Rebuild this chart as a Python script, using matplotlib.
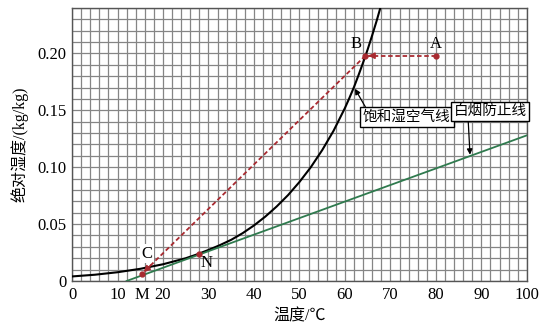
import matplotlib
matplotlib.use("Agg")
import matplotlib.pyplot as plt
import numpy as np

plt.rcParams['font.family'] = ['Liberation Serif', 'Noto Sans CJK SC', 'DejaVu Sans']

# saturation curve
sat_t = [0, 5, 10, 15, 20, 25, 27.5, 30, 32.5, 35, 37.5, 40, 42.5, 45, 47.5, 50, 52.5,
         55, 57.5, 60, 61, 62, 63, 64, 65, 66, 67, 68]
sat_w = [0.004, 0.0055, 0.0077, 0.0107, 0.0147, 0.020, 0.0234, 0.0273, 0.0315, 0.0362,
         0.0420, 0.0488, 0.0566, 0.0655, 0.0755, 0.0870, 0.1000, 0.1150, 0.1320, 0.1520,
         0.1610, 0.1705, 0.1810, 0.1920, 0.2035, 0.2160, 0.2290, 0.2430]

# white smoke prevention line
green_t = [12, 100]
green_w = [0.0, 0.128]

# process points
pt_A = (80, 0.198)
pt_B = (64.5, 0.198)
pt_C = (15.3, 0.006)
pt_N = (28, 0.0235)

xticks = [0, 10, 15.3, 20, 30, 40, 50, 60, 70, 80, 90, 100]
xtick_labels = ['0', '10', 'M', '20', '30', '40', '50', '60', '70', '80', '90', '100']
yticks = [0, 0.05, 0.10, 0.15, 0.20]
ytick_labels = ['0', '0.05', '0.10', '0.15', '0.20']

red = '#a82a30'
green = '#2f7a4e'

fig = plt.figure(figsize=(5.54, 3.30), dpi=100)
ax = fig.add_axes([0.130, 0.1485, 0.821, 0.8275])

ax.set_xlim(0, 100)
ax.set_ylim(0, 0.24)

# grid
for gx in np.arange(0, 101, 2):
    ax.axvline(gx, color='#858585', lw=0.9, zorder=0)
for gy in np.arange(0, 0.2401, 0.01):
    ax.axhline(gy, color='#858585', lw=0.9, zorder=0)

ax.plot(sat_t, sat_w, color='black', lw=1.5, zorder=3)
ax.plot(green_t, green_w, color=green, lw=1.3, zorder=3)

# dashed process lines
ax.plot([pt_A[0], pt_B[0]], [pt_A[1], pt_B[1]], color=red, lw=1.3, ls=(0, (2.5, 1.5)), zorder=4)
ax.plot([pt_B[0], pt_C[0]], [pt_B[1], pt_C[1]], color=red, lw=1.3, ls=(0, (2.5, 1.5)), zorder=4)
for p in (pt_A, pt_B, pt_C, pt_N):
    ax.plot(p[0], p[1], 'o', color=red, ms=3.5, zorder=5)

# arrow heads
ax.annotate('', xy=pt_B, xytext=(pt_B[0] + 2, pt_B[1]),
            arrowprops=dict(arrowstyle='-|>', color=red, lw=1.2, mutation_scale=9), zorder=5)
dx = pt_B[0] - pt_C[0]
dy = pt_B[1] - pt_C[1]
ax.annotate('', xy=pt_C, xytext=(pt_C[0] + dx * 0.05, pt_C[1] + dy * 0.05),
            arrowprops=dict(arrowstyle='-|>', color=red, lw=1.2, mutation_scale=9), zorder=5)

# point labels
ax.text(80, 0.201, 'A', fontsize=12, ha='center', va='bottom')
ax.text(62.5, 0.201, 'B', fontsize=12, ha='center', va='bottom')
ax.text(16.5, 0.024, 'C', fontsize=12, ha='center', va='center',
        bbox=dict(boxstyle='square,pad=0.1', fc='white', ec='none'))
ax.text(29.6, 0.016, 'N', fontsize=12, ha='center', va='center')

# callouts
ax.annotate('饱和湿空气线', xy=(62.2, 0.169), xytext=(73.6, 0.144),
            fontsize=10.5, ha='center', va='center',
            bbox=dict(boxstyle='square,pad=0.2', fc='white', ec='black', lw=1),
            arrowprops=dict(arrowstyle='-|>', color='black', lw=0.9, mutation_scale=8,
                            shrinkA=0, shrinkB=0, relpos=(0.05, 1.0)), zorder=6)
ax.annotate('白烟防止线', xy=(87.5, 0.111), xytext=(91.9, 0.149),
            fontsize=10.5, ha='center', va='center',
            bbox=dict(boxstyle='square,pad=0.2', fc='white', ec='black', lw=1),
            arrowprops=dict(arrowstyle='-|>', color='black', lw=0.9, mutation_scale=8,
                            shrinkA=0, shrinkB=0, relpos=(0.2, 0.0)), zorder=6)

ax.set_xticks(xticks)
ax.set_xticklabels(xtick_labels)
ax.set_yticks(yticks)
ax.set_yticklabels(ytick_labels)
ax.tick_params(length=0, labelsize=12, pad=4)
for s in ax.spines.values():
    s.set_color('#555555')
    s.set_linewidth(1)

ax.set_xlabel('温度/℃', fontsize=11.5, labelpad=4)
ax.set_ylabel('绝对湿度/(kg/kg)', fontsize=11.5, labelpad=6)

fig.savefig('out.png', dpi=100)
